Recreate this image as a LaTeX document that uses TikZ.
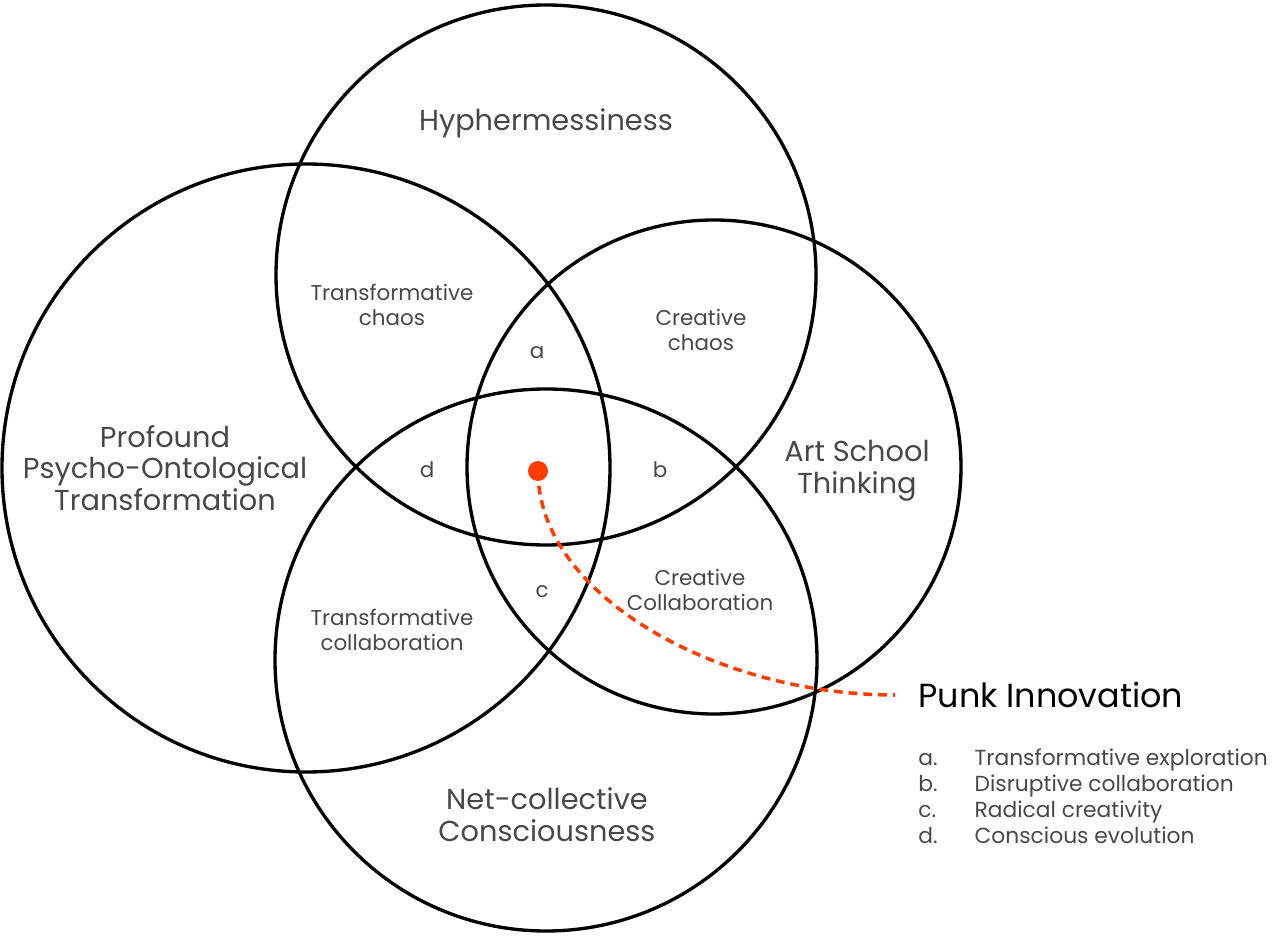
\documentclass[tikz,border=0pt]{standalone}
\usepackage{fontspec}
\setmainfont{Poppins}
\usepackage{tikz}
\usetikzlibrary{positioning}

\definecolor{punkred}{RGB}{255,61,0}
\definecolor{labelgray}{RGB}{72,72,72}

\begin{document}
\begin{tikzpicture}[x=0.02cm,y=0.02cm,
                    venn/.style={draw=black,line width=1.9pt},
                    big/.style={text=labelgray,align=center,font=\fontsize{16.4}{18.1}\selectfont},
                    small/.style={text=labelgray,align=center,font=\fontsize{12.2}{14.2}\selectfont},
                    letter/.style={text=labelgray,font=\fontsize{12.2}{14.2}\selectfont}]
  \useasboundingbox (0,0) rectangle (1285,944);

  % the four sets
  \coordinate (H) at (546,669);
  \coordinate (P) at (306,476);
  \coordinate (S) at (714,477);
  \coordinate (N) at (546,284);
  \draw[venn] (H) circle (270);
  \draw[venn] (P) circle (304);
  \draw[venn] (S) circle (247);
  \draw[venn] (N) circle (271);

  \node[big]   (hyph)  at (546,821) {Hyphermessiness};
  \node[big]   (prof)  at (165,476) {Profound\\Psycho-Ontological\\Transformation};
  \node[big]   (art)   at (857,473) {Art School\\Thinking};
  \node[big]   (net)   at (547,129) {Net-collective\\Consciousness};

  \node[small] (tchaos)  at (392,639) {Transformative\\chaos};
  \node[small] (cchaos)  at (701,614) {Creative\\chaos};
  \node[small] (tcollab) at (392,314) {Transformative\\collaboration};
  \node[small] (ccollab) at (700,354) {Creative\\Collaboration};

  \node[letter] (la) at (537,591) {a};
  \node[letter] (lb) at (660,474) {b};
  \node[letter] (lc) at (542,352) {c};
  \node[letter] (ld) at (427,474) {d};

  % punk innovation
  \node[circle,fill=punkred,inner sep=0pt,minimum size=0.4cm] (dot) at (538,473) {};
  \node[anchor=west,inner sep=0pt,font=\fontsize{19}{22}\selectfont] (punk) at (918,249) {Punk Innovation};
  \node[anchor=north west,inner sep=0pt,text=labelgray,font=\fontsize{12.4}{14.8}\selectfont]
       (list) [below=0.78cm of punk.south west,anchor=north west]
       {\begin{tabular}{@{}l@{\hspace{0.74cm}}l@{}}
        a. & Transformative exploration\\
        b. & Disruptive collaboration\\
        c. & Radical creativity\\
        d. & Conscious evolution
        \end{tabular}};

  \draw[punkred,line width=2pt,dash pattern=on 5pt off 3.4pt,shorten >=0.46cm]
       (dot.center) .. controls +(0,-125) and +(-200,0) .. (punk.west);
\end{tikzpicture}
\end{document}
